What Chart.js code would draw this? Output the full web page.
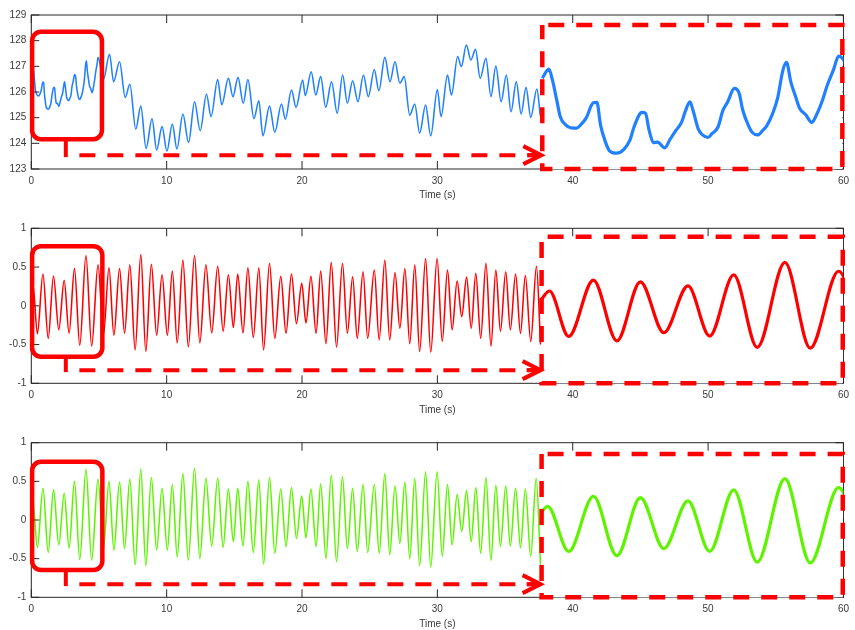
<!DOCTYPE html>
<html><head><meta charset="utf-8">
<script src="https://cdn.jsdelivr.net/npm/chart.js@4.4.1/dist/chart.umd.min.js"></script>
<style>
html,body{margin:0;padding:0;background:#fff;overflow:hidden;}
#wrap{position:relative;width:855px;height:630px;background:#fff;}
canvas{position:absolute;left:0;}
</style></head>
<body><div id="wrap">
<canvas id="c1" width="855" height="210" style="top:0px"></canvas>
<canvas id="c2" width="855" height="210" style="top:210px"></canvas>
<canvas id="c3" width="855" height="210" style="top:420px"></canvas>
</div>
<script>
// ---------- tick labels / titles ----------
const timeTicks = [0, 10, 20, 30, 40, 50, 60];
const topTicks = [123, 124, 125, 126, 127, 128, 129];
const sigTicks = [-1, -0.5, 0, 0.5, 1];
const xTitle = 'Time (s)';

// ---------- top series (blue) ----------
const blueT = [0, 0.11, 0.17, 0.24, 0.30, 0.39, 0.47, 0.57, 0.64, 0.73, 0.85, 0.91, 0.97, 1.05, 1.12, 1.24, 1.36, 1.46, 1.53, 1.66,
  1.72, 1.78, 1.85, 1.92, 2.04, 2.13, 2.23, 2.32, 2.38, 2.46, 2.51, 2.60, 2.67, 2.76, 2.83, 2.93, 3.01, 3.09, 3.20, 3.28,
  3.34, 3.43, 3.50, 3.59, 3.67, 3.74, 3.84, 3.92, 4.01, 4.07, 4.14, 4.22, 4.29, 4.39, 4.49, 4.57, 4.66, 4.75, 4.85, 4.94,
  5.32, 5.78, 6.08, 6.52, 6.94, 7.28, 7.72, 8.09, 8.48, 8.92, 9.26, 9.66, 10.02, 10.42, 10.76, 11.2, 11.62, 12.06, 12.48, 12.94,
  13.28, 13.77, 14.07, 14.56, 14.9, 15.27, 15.66, 16.0, 16.45, 16.81, 17.11, 17.6, 17.99, 18.48, 18.77, 19.22, 19.56, 20.05, 20.24, 20.68,
  21.02, 21.38, 21.75, 22.18, 22.6, 23.0, 23.35, 23.74, 24.13, 24.54, 24.9, 25.34, 25.68, 26.12, 26.5, 26.87, 27.23, 27.55, 27.96, 28.33,
  28.69, 29.13, 29.51, 30.0, 30.27, 30.75, 31.04, 31.5, 31.77, 32.14, 32.48, 32.82, 33.16, 33.59, 33.96, 34.32, 34.71, 35.1, 35.44, 35.83,
  36.19, 36.55, 36.9, 37.35, 37.6];
const blueV = [126.89, 127.08, 126.85, 126.44, 126.09, 125.92, 125.86, 125.85, 125.92, 126.06, 126.38, 126.39, 125.92, 125.57, 125.38, 125.33, 125.41, 125.6, 125.88, 126.18,
  126.16, 125.81, 125.55, 125.56, 125.44, 125.62, 125.81, 125.97, 126.19, 126.4, 126.23, 125.83, 125.71, 125.66, 125.74, 125.88, 126.22, 126.4, 126.68, 126.58,
  126.23, 125.92, 125.76, 125.71, 125.8, 125.9, 126.16, 126.47, 127.06, 127.22, 126.82, 126.51, 126.26, 126.13, 125.97, 126.13, 126.4, 126.75, 127.06, 127.35,
  126.47, 127.47, 126.4, 127.18, 125.79, 126.3, 124.55, 125.45, 123.8, 124.96, 123.74, 124.65, 123.7, 124.75, 123.78, 125.14, 124.03, 125.62, 124.49, 125.91,
  125.04, 126.49, 125.5, 126.53, 125.82, 126.57, 125.56, 126.49, 124.96, 125.66, 124.29, 125.45, 124.43, 125.53, 124.94, 126.08, 125.4, 126.47, 125.86, 126.79,
  125.88, 126.6, 125.4, 126.4, 125.17, 126.66, 125.56, 126.44, 125.62, 126.66, 125.82, 126.88, 126.05, 127.35, 126.4, 127.18, 126.34, 126.6, 125.1, 125.53,
  124.39, 125.49, 124.29, 126.1, 125.04, 126.66, 125.88, 127.38, 126.99, 127.83, 127.25, 127.66, 126.53, 127.31, 125.82, 127.01, 125.62, 126.66, 125.23, 126.4,
  125.14, 126.18, 125.01, 126.12, 125.08];

// ---------- middle series (red) ----------
const redT = [0, 0.13, 0.45, 0.86, 1.25, 1.64, 2.03, 2.43, 2.79, 3.19, 3.58, 4.04, 4.46, 4.93, 5.33, 5.74, 6.10, 6.52, 6.89, 7.28,
  7.67, 8.09, 8.46, 8.87, 9.26, 9.66, 10.05, 10.42, 10.78, 11.20, 11.60, 12.06, 12.45, 12.90, 13.33, 13.77, 14.17, 14.56, 14.93, 15.25,
  15.64, 16.00, 16.40, 16.81, 17.16, 17.60, 17.99, 18.43, 18.82, 19.22, 19.59, 19.98, 20.29, 20.66, 21.04, 21.38, 21.77, 22.16, 22.55, 22.99,
  23.35, 23.74, 24.08, 24.51, 24.85, 25.34, 25.70, 26.12, 26.48, 26.87, 27.23, 27.60, 27.96, 28.33, 28.69, 29.13, 29.51, 29.98, 30.36, 30.75,
  31.09, 31.46, 31.80, 32.16, 32.50, 32.84, 33.20, 33.59, 33.96, 34.32, 34.66, 35.05, 35.39, 35.78, 36.14, 36.50, 36.90, 37.32, 37.62];
const redV = [0.15, 0.26, -0.36, 0.41, -0.42, 0.385, -0.31, 0.33, -0.355, 0.48, -0.51, 0.65, -0.52, 0.53, -0.38, 0.49, -0.38, 0.48, -0.355, 0.53,
  -0.57, 0.66, -0.59, 0.535, -0.38, 0.40, -0.38, 0.45, -0.48, 0.59, -0.53, 0.65, -0.48, 0.53, -0.35, 0.51, -0.33, 0.40, -0.28, 0.41,
  -0.35, 0.49, -0.41, 0.49, -0.57, 0.55, -0.42, 0.38, -0.355, 0.41, -0.23, 0.29, -0.22, 0.38, -0.355, 0.45, -0.49, 0.56, -0.535, 0.55,
  -0.355, 0.376, -0.42, 0.44, -0.42, 0.46, -0.44, 0.59, -0.44, 0.43, -0.29, 0.48, -0.49, 0.53, -0.59, 0.61, -0.60, 0.61, -0.46, 0.46,
  -0.31, 0.32, -0.14, 0.37, -0.29, 0.42, -0.42, 0.55, -0.52, 0.46, -0.33, 0.44, -0.31, 0.41, -0.355, 0.39, -0.46, 0.51, -0.5];

// ---------- bottom series (green) ----------
const greenT = [0, 0.10, 0.45, 0.86, 1.25, 1.64, 2.03, 2.43, 2.79, 3.19, 3.58, 4.04, 4.46, 4.93, 5.33, 5.74, 6.10, 6.52, 6.89, 7.28,
  7.67, 8.09, 8.46, 8.87, 9.26, 9.66, 10.05, 10.42, 10.78, 11.20, 11.60, 12.06, 12.45, 12.90, 13.33, 13.77, 14.17, 14.56, 14.93, 15.25,
  15.64, 16.00, 16.40, 16.81, 17.16, 17.60, 17.99, 18.43, 18.82, 19.22, 19.59, 19.98, 20.29, 20.66, 21.04, 21.38, 21.77, 22.16, 22.55, 22.99,
  23.35, 23.74, 24.08, 24.51, 24.85, 25.34, 25.70, 26.12, 26.48, 26.87, 27.23, 27.60, 27.96, 28.33, 28.69, 29.13, 29.51, 29.98, 30.36, 30.75,
  31.09, 31.46, 31.80, 32.16, 32.50, 32.84, 33.20, 33.59, 33.96, 34.32, 34.66, 35.05, 35.39, 35.78, 36.14, 36.50, 36.90, 37.30, 37.62];
const greenV = [0.19, 0.27, -0.36, 0.41, -0.42, 0.39, -0.32, 0.345, -0.36, 0.50, -0.51, 0.655, -0.52, 0.53, -0.37, 0.50, -0.39, 0.49, -0.37, 0.53,
  -0.58, 0.66, -0.59, 0.55, -0.39, 0.41, -0.39, 0.46, -0.48, 0.60, -0.52, 0.67, -0.50, 0.54, -0.34, 0.54, -0.355, 0.40, -0.28, 0.41,
  -0.34, 0.50, -0.42, 0.52, -0.57, 0.55, -0.43, 0.40, -0.345, 0.42, -0.24, 0.31, -0.23, 0.40, -0.345, 0.47, -0.50, 0.58, -0.54, 0.56,
  -0.37, 0.41, -0.41, 0.46, -0.42, 0.46, -0.43, 0.60, -0.45, 0.44, -0.30, 0.49, -0.50, 0.54, -0.59, 0.625, -0.61, 0.625, -0.47, 0.46,
  -0.32, 0.33, -0.15, 0.38, -0.28, 0.42, -0.43, 0.55, -0.52, 0.45, -0.345, 0.44, -0.34, 0.41, -0.36, 0.40, -0.47, 0.54, -0.58];

// ---------- panel layout (annotation shapes in data units) ----------
const panels = [
  { id: 'c1', T: blueT, V: blueV, color: '#2080ff', ticks: topTicks, top: 15, bottom: 169, titlePad: 8.5,
    src: { x0: 0.06, x1: 5.22, y0: 124.16, y1: 128.35 }, link: { x: 2.55, y: 123.54, x0: 3.55 },
    box: { x0: 37.75, x1: 59.92, y0: 123, y1: 128.61 }, lim: { x: [0, 5], y: [125, 128] } },
  { id: 'c2', T: redT, V: redV, color: '#ff0000', ticks: sigTicks, top: 18.3, bottom: 173.3, titlePad: 4.2,
    src: { x0: 0.06, x1: 5.25, y0: -0.657, y1: 0.77 }, link: { x: 2.55, y: -0.83, x0: 3.55 },
    box: { x0: 37.7, x1: 59.95, y0: -1, y1: 0.89 }, lim: { x: [0, 5], y: [-1, 1] } },
  { id: 'c3', T: greenT, V: greenV, color: '#5ef400', ticks: sigTicks, top: 22.7, bottom: 177.3, titlePad: 0.2,
    src: { x0: 0.06, x1: 5.25, y0: -0.647, y1: 0.754 }, link: { x: 2.55, y: -0.83, x0: 3.55 },
    box: { x0: 37.7, x1: 59.95, y0: -1, y1: 0.854 }, lim: { x: [0, 5], y: [-1, 1] } }
];

const W = 855, H = 210, LEFT = 31.3, RIGHT = 848;
const FRAME = '#262626', ANN = '#ff0000', TXT = '#3a3a3a';

function insetRange(mMin, mMax, b0, b1, l0, l1) {
  const k = (l1 - l0) / (b1 - b0);
  return { min: l0 - (b0 - mMin) * k, max: l1 + (mMax - b1) * k };
}

function drawFrame(chart) {
  const { ctx, chartArea: a, scales: { x, y } } = chart;
  const tl = 8;
  ctx.save();
  ctx.strokeStyle = FRAME; ctx.lineWidth = 1;
  ctx.strokeRect(a.left, a.top, a.right - a.left, a.bottom - a.top);
  ctx.beginPath();
  x.ticks.forEach(t => {
    const p = x.getPixelForValue(t.value);
    ctx.moveTo(p, a.bottom); ctx.lineTo(p, a.bottom - tl);
    ctx.moveTo(p, a.top); ctx.lineTo(p, a.top + tl);
  });
  y.ticks.forEach(t => {
    const p = y.getPixelForValue(t.value);
    ctx.moveTo(a.left, p); ctx.lineTo(a.left + tl, p);
    ctx.moveTo(a.right, p); ctx.lineTo(a.right - tl, p);
  });
  ctx.stroke();
  ctx.restore();
}

function roundRectPath(ctx, x0, y0, x1, y1, r) {
  ctx.beginPath();
  ctx.moveTo(x0 + r, y0);
  ctx.arcTo(x1, y0, x1, y1, r);
  ctx.arcTo(x1, y1, x0, y1, r);
  ctx.arcTo(x0, y1, x0, y0, r);
  ctx.arcTo(x0, y0, x1, y0, r);
  ctx.closePath();
}

const decor = {
  id: 'decor',
  beforeDatasetDraw(chart, args) {
    if (args.index !== 1) return;
    const p = chart.config.options.panel;
    const { ctx, scales: { x, y } } = chart;
    drawFrame(chart);
    const L = x.getPixelForValue(p.box.x0), R = x.getPixelForValue(p.box.x1);
    const T = y.getPixelForValue(p.box.y1), B = y.getPixelForValue(p.box.y0);
    ctx.save(); ctx.fillStyle = '#ffffff'; ctx.fillRect(L, T, R - L, B - T); ctx.restore();
  },
  afterDatasetsDraw(chart) {
    const p = chart.config.options.panel;
    const { ctx, scales: { x, y } } = chart;
    ctx.save();
    ctx.strokeStyle = ANN;
    // source rounded rectangle
    ctx.lineWidth = 4.5;
    ctx.setLineDash([]);
    roundRectPath(ctx, x.getPixelForValue(p.src.x0), y.getPixelForValue(p.src.y1),
      x.getPixelForValue(p.src.x1), y.getPixelForValue(p.src.y0), 9);
    ctx.stroke();
    // connector: short vertical stem
    const lx = x.getPixelForValue(p.link.x), ly = y.getPixelForValue(p.link.y);
    ctx.lineWidth = 4;
    ctx.beginPath();
    ctx.moveTo(lx, y.getPixelForValue(p.src.y0));
    ctx.lineTo(lx, ly + 2);
    ctx.stroke();
    // dashed horizontal line
    const tipX = x.getPixelForValue(p.box.x0) - 1;
    ctx.setLineDash([16, 12]);
    ctx.beginPath();
    ctx.moveTo(x.getPixelForValue(p.link.x0), ly);
    ctx.lineTo(tipX - 2, ly);
    ctx.stroke();
    // arrow head
    ctx.setLineDash([]);
    ctx.lineJoin = 'miter';
    ctx.beginPath();
    ctx.moveTo(tipX - 18, ly - 9);
    ctx.lineTo(tipX, ly);
    ctx.lineTo(tipX - 18, ly + 9);
    ctx.stroke();
    ctx.beginPath();
    ctx.moveTo(tipX - 14, ly); ctx.lineTo(tipX, ly); ctx.stroke();
    // dashed inset box
    ctx.lineWidth = 4.5;
    ctx.setLineDash([16, 12]);
    const L = x.getPixelForValue(p.box.x0), R = x.getPixelForValue(p.box.x1);
    const T = y.getPixelForValue(p.box.y1), B = y.getPixelForValue(p.box.y0);
    ctx.lineDashOffset = -6;
    ctx.strokeRect(L, T, R - L, B - T);
    ctx.restore();
  }
};

Chart.defaults.font.family = '"Liberation Sans", Arial, Helvetica, sans-serif';
Chart.defaults.font.size = 10;
Chart.defaults.color = TXT;

panels.forEach(p => {
  const yMin = p.ticks[0], yMax = p.ticks[p.ticks.length - 1];
  const xMin = timeTicks[0], xMax = timeTicks[timeTicks.length - 1];
  const x2 = insetRange(xMin, xMax, p.box.x0, p.box.x1, p.lim.x[0], p.lim.x[1]);
  const y2 = insetRange(yMin, yMax, p.box.y0, p.box.y1, p.lim.y[0], p.lim.y[1]);
  const pts = p.T.map((t, i) => ({ x: t, y: p.V[i] }));
  const insetPts = pts.filter(d => d.x <= p.lim.x[1] + 0.45);
  new Chart(document.getElementById(p.id), {
    type: 'line',
    data: {
      datasets: [
        { data: pts, borderColor: p.color, borderWidth: 1.55, pointRadius: 0,
          cubicInterpolationMode: 'monotone', fill: false, order: 2, xAxisID: 'x', yAxisID: 'y' },
        { data: insetPts, borderColor: p.color, borderWidth: 3.2, pointRadius: 0,
          cubicInterpolationMode: 'monotone', fill: false, order: 1, xAxisID: 'x2', yAxisID: 'y2' }
      ]
    },
    options: {
      panel: p,
      responsive: false, animation: false, devicePixelRatio: 1, events: [],
      layout: { padding: { top: p.top, right: W - RIGHT, left: 0, bottom: 0 } },
      plugins: { legend: { display: false }, tooltip: { enabled: false } },
      scales: {
        x: {
          type: 'linear', position: 'bottom', min: xMin, max: xMax,
          afterBuildTicks: s => { s.ticks = timeTicks.map(v => ({ value: v })); },
          ticks: { padding: 6, maxRotation: 0, autoSkip: false, color: TXT, font: { size: 10 },
                   callback: v => String(v) },
          grid: { display: false, drawTicks: false }, border: { display: false },
          title: { display: true, text: xTitle, color: TXT, font: { size: 10 }, padding: { top: 0, bottom: p.titlePad } },
          afterFit: s => { s.height = H - p.bottom; }
        },
        y: {
          type: 'linear', position: 'left', min: yMin, max: yMax,
          afterBuildTicks: s => { s.ticks = p.ticks.map(v => ({ value: v })); },
          ticks: { padding: 5, autoSkip: false, color: TXT, font: { size: 10 },
                   callback: v => String(v) },
          grid: { display: false, drawTicks: false }, border: { display: false },
          afterFit: s => { s.width = LEFT; }
        },
        x2: { type: 'linear', display: false, bounds: 'data', min: x2.min, max: x2.max },
        y2: { type: 'linear', display: false, bounds: 'data', min: y2.min, max: y2.max }
      }
    },
    plugins: [decor]
  });
});
</script>
</body></html>
